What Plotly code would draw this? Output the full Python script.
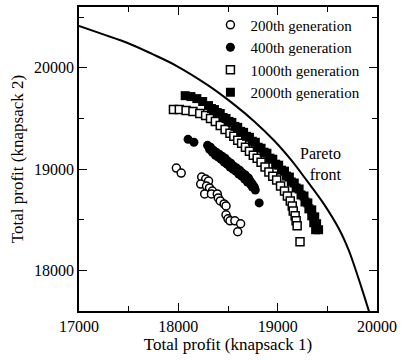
import plotly.graph_objects as go

# Pareto front (knapsack 1, knapsack 2)
pareto_x = [17000, 17245, 17490, 17735, 17980, 18304, 18569, 18765, 18971, 19137, 19294,
            19471, 19627, 19716, 19784, 19853, 19922]
pareto_y = [20412, 20330, 20245, 20137, 20020, 19824, 19632, 19471, 19275, 19088, 18886,
            18647, 18392, 18198, 18010, 17804, 17588]

gen200_x = [17980, 18029, 18235, 18275, 18304, 18225, 18284, 18314, 18343, 18265, 18333,
            18392, 18402, 18422, 18461, 18480, 18480, 18500, 18520, 18569, 18627, 18598]
gen200_y = [19010, 18961, 18922, 18902, 18882, 18853, 18833, 18814, 18784, 18755, 18755,
            18755, 18716, 18686, 18657, 18637, 18549, 18510, 18490, 18490, 18461, 18382]

gen400_x = [18098, 18157, 18294, 18324, 18353, 18382, 18412, 18441, 18471, 18500, 18529,
            18559, 18588, 18618, 18647, 18676, 18706, 18725, 18745, 18765, 18775, 18814,
            18314, 18343, 18373, 18402, 18431, 18461, 18490, 18520, 18549, 18578, 18608,
            18637, 18667, 18696, 18725, 18745]
gen400_y = [19294, 19265, 19235, 19216, 19186, 19167, 19147, 19127, 19108, 19078, 19059,
            19029, 19010, 18990, 18961, 18941, 18912, 18882, 18853, 18824, 18794, 18667,
            19196, 19167, 19137, 19118, 19098, 19069, 19049, 19020, 19000, 18980, 18951,
            18931, 18902, 18873, 18853, 18824]

gen1000_x = [17951, 18010, 18078, 18147, 18216, 18275, 18324, 18373, 18422, 18471, 18520,
             18559, 18598, 18637, 18676, 18716, 18755, 18794, 18833, 18873, 18912, 18951,
             18990, 19029, 19069, 19098, 19127, 19147, 19157, 19176, 19186, 19196, 19225]
gen1000_y = [19588, 19588, 19578, 19569, 19549, 19529, 19500, 19471, 19431, 19392, 19353,
             19324, 19284, 19255, 19216, 19176, 19137, 19108, 19069, 19020, 18971, 18931,
             18892, 18833, 18784, 18735, 18686, 18637, 18588, 18539, 18490, 18441, 18284]

gen2000_x = [18069, 18127, 18186, 18245, 18304, 18363, 18422, 18480, 18539, 18598, 18657,
             18716, 18775, 18833, 18892, 18951, 19010, 19069, 19118, 19167, 19216, 19265,
             19304, 19343, 19373, 19392, 19412,
             18333, 18392, 18451, 18510, 18569, 18627, 18686, 18745, 18804, 18863, 18922,
             18980, 19039, 19088, 19137, 19186, 19235, 19275, 19314, 19343, 19363, 19382]
gen2000_y = [19725, 19716, 19696, 19667, 19627, 19588, 19549, 19500, 19461, 19412, 19363,
             19314, 19265, 19206, 19157, 19098, 19039, 18980, 18922, 18863, 18804, 18735,
             18667, 18598, 18529, 18461, 18402,
             19598, 19559, 19510, 19471, 19422, 19373, 19324, 19275, 19216, 19167, 19108,
             19049, 18990, 18931, 18873, 18814, 18745, 18676, 18608, 18539, 18471, 18402]

FONT = "Liberation Serif, Times New Roman, serif"

fig = go.Figure()
fig.add_trace(go.Scatter(x=pareto_x, y=pareto_y, mode="lines",
                         line=dict(color="black", width=2, shape="spline", smoothing=1),
                         showlegend=False, hoverinfo="skip"))
fig.add_trace(go.Scatter(x=gen200_x, y=gen200_y, mode="markers", name="200th generation",
                         marker=dict(symbol="circle", size=8, color="white", line=dict(color="black", width=1.5))))
fig.add_trace(go.Scatter(x=gen400_x, y=gen400_y, mode="markers", name="400th generation",
                         marker=dict(symbol="circle", size=9, color="black", line=dict(color="black", width=0))))
fig.add_trace(go.Scatter(x=gen1000_x, y=gen1000_y, mode="markers", name="1000th generation",
                         marker=dict(symbol="square", size=8, color="white", line=dict(color="black", width=1.5))))
fig.add_trace(go.Scatter(x=gen2000_x, y=gen2000_y, mode="markers", name="2000th generation",
                         marker=dict(symbol="square", size=9, color="black", line=dict(color="black", width=0))))

axis_common = dict(showline=True, linecolor="black", linewidth=1.5, mirror="ticks", ticks="inside",
                   ticklen=8, tickwidth=1.2, tickcolor="black", showgrid=False, zeroline=False,
                   tickformat="d", ticklabeloverflow="allow",
                   tickfont=dict(family=FONT, size=16, color="black"),
                   minor=dict(ticks="inside", ticklen=5, tickwidth=1.2, tickcolor="black", dtick=500, showgrid=False))

fig.update_xaxes(range=[17000, 20000], dtick=1000, tick0=17000,
                 title=dict(text="Total profit (knapsack 1)", font=dict(family=FONT, size=17, color="black"), standoff=4),
                 **axis_common)
fig.update_yaxes(range=[17600, 20600], dtick=1000, tick0=17000,
                 title=dict(text="Total profit (knapsack 2)", font=dict(family=FONT, size=17, color="black"), standoff=6),
                 **axis_common)

fig.add_annotation(x=19657, y=19049, xref="x", yref="y", text="Pareto<br>front", showarrow=False,
                   xanchor="right", align="right", font=dict(family=FONT, size=16, color="black"))

fig.update_layout(
    width=402, height=360,
    margin=dict(l=79, r=17, t=5, b=49),
    plot_bgcolor="white", paper_bgcolor="white",
    font=dict(family=FONT, color="black"),
    legend=dict(x=0.441, y=0.995, xanchor="left", yanchor="top", bgcolor="rgba(0,0,0,0)",
                font=dict(family=FONT, size=15, color="black"), tracegroupgap=0, itemwidth=30),
    showlegend=True,
)

fig.write_html("out.html")
